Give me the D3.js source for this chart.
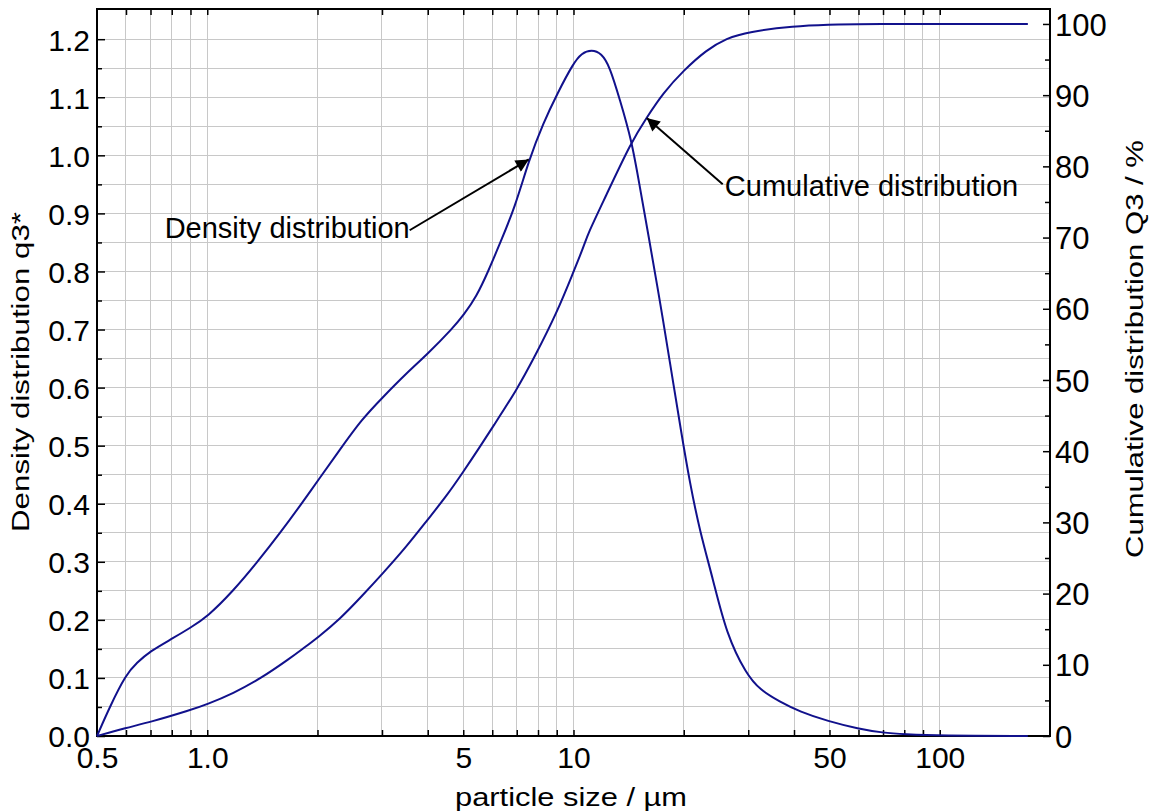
<!DOCTYPE html>
<html>
<head>
<meta charset="utf-8">
<script src="https://cdn.jsdelivr.net/npm/d3@7"></script>
<style>
  body { margin: 0; background: #fff; }
  text { font-family: "Liberation Sans", Arial, sans-serif; fill: #000; }
</style>
</head>
<body>
<svg id="chart" width="1149" height="812"></svg>
<script>
// particle size (µm) and density distribution q3*
const densitySize = [0.5, 0.5425, 0.6, 0.642, 0.698, 0.799, 0.897, 1.0, 1.178, 1.364, 1.579, 1.828, 2.0, 2.302, 2.639, 3.0, 3.501, 4.0, 4.69, 5.0, 5.437, 5.848, 6.295, 6.915, 7.565, 8.262, 9.04, 10.0, 10.52, 11.2, 11.92, 12.56, 13.38, 14.4, 15.17, 15.98, 17.2, 18.32, 19.72, 20.77, 22.12, 24.04, 26.16, 29.66, 32.25, 36.57, 41.47, 49.5, 60, 70, 80, 100, 174];
const densityValue = [0, 0.051, 0.106, 0.126, 0.146, 0.167, 0.186, 0.205, 0.250, 0.298, 0.349, 0.404, 0.439, 0.493, 0.545, 0.582, 0.625, 0.658, 0.703, 0.724, 0.757, 0.800, 0.848, 0.910, 0.993, 1.055, 1.107, 1.159, 1.176, 1.182, 1.176, 1.153, 1.096, 1.027, 0.946, 0.866, 0.751, 0.645, 0.520, 0.437, 0.353, 0.270, 0.175, 0.106, 0.080, 0.059, 0.042, 0.0255, 0.0124, 0.0055, 0.003, 0.0005, 0];

// particle size (µm) and cumulative distribution Q3 (%)
const cumulativeSize = [0.5, 0.6, 0.698, 0.897, 0.996, 1.178, 1.393, 1.682, 1.828, 2.0, 2.302, 2.639, 3.0, 3.501, 4.0, 4.5, 5.0, 5.55, 6.0, 7.0, 7.842, 9.0, 10.0, 10.62, 10.96, 12.17, 14.4, 15.82, 17.56, 20, 23.07, 26.16, 30, 40, 50, 60, 174];
const cumulativeValue = [0, 1.15, 1.94, 3.62, 4.42, 6.0, 8.0, 10.9, 12.3, 13.8, 16.4, 19.6, 22.7, 26.6, 30.4, 33.7, 37.1, 40.6, 43.3, 48.6, 53.3, 59.4, 65.2, 68.5, 70.6, 75.5, 83.5, 86.8, 90.3, 93.5, 96.35, 98.0, 98.9, 99.7, 99.9, 100, 100];

// axis ticks
const xTickValues = [0.5, 1, 5, 10, 50, 100];
const xTickLabels = ["0.5", "1.0", "5", "10", "50", "100"];
const xGridValues = [0.6, 0.7, 0.8, 0.9, 1, 2, 3, 4, 5, 6, 7, 8, 9, 10, 20, 30, 40, 50, 60, 70, 80, 90, 100];
const densityTicks = [0, 0.1, 0.2, 0.3, 0.4, 0.5, 0.6, 0.7, 0.8, 0.9, 1.0, 1.1, 1.2];
const densityMinorTicks = [0.05, 0.15, 0.25, 0.35, 0.45, 0.55, 0.65, 0.75, 0.85, 0.95, 1.05, 1.15];
const cumulativeTicks = [0, 10, 20, 30, 40, 50, 60, 70, 80, 90, 100];
const cumulativeMinorTicks = [5, 15, 25, 35, 45, 55, 65, 75, 85, 95];

// annotations: [label, text x, text y, arrow start x, arrow start y, arrow tip x, arrow tip y]
const densityNote = ["Density distribution", 3.57, 0.857, 3.57, 0.871, 7.55, 0.993];
const cumulativeNote = ["Cumulative distribution", 25.9, 75.8, 25.55, 77.5, 15.85, 86.8];

const plotLeft = 97, plotRight = 1050, plotTop = 9, plotBottom = 736;
const lineColor = "#11118c";

const svg = d3.select("#chart");

const x = d3.scaleLog().domain([0.5, 200]).range([plotLeft, plotRight]);
const yL = d3.scaleLinear().domain([0, 1.252]).range([plotBottom, plotTop]);
const yR = d3.scaleLinear().domain([0, 102.1]).range([plotBottom, plotTop]);

// grid
const grid = svg.append("g").attr("shape-rendering", "crispEdges");
grid.selectAll(".hgrid")
  .data(densityTicks.concat(densityMinorTicks).filter(d => d > 0))
  .enter().append("line")
  .attr("x1", plotLeft).attr("x2", plotRight)
  .attr("y1", d => yL(d)).attr("y2", d => yL(d))
  .attr("stroke", "#c8c8c8").attr("stroke-width", 1);
grid.selectAll(".vgrid")
  .data(xGridValues)
  .enter().append("line")
  .attr("x1", d => x(d)).attr("x2", d => x(d))
  .attr("y1", plotTop).attr("y2", plotBottom)
  .attr("stroke", "#c8c8c8").attr("stroke-width", 1);

function styleAxis(g, size) {
  g.select(".domain").remove();
  g.selectAll("line").attr("stroke", "#000").attr("stroke-width", 1.5);
  g.selectAll("text").style("font-family", '"Liberation Sans", Arial, sans-serif')
    .style("font-size", size + "px").attr("fill", "#000");
}

// left axis
svg.append("g").attr("transform", `translate(${plotLeft},0)`)
  .call(d3.axisLeft(yL).tickValues(densityTicks).tickSize(-8).tickSizeOuter(0)
    .tickPadding(7).tickFormat(d3.format(".1f")))
  .call(g => styleAxis(g, 30))
  .selectAll("text").attr("dy", "0.36em");
svg.append("g").attr("transform", `translate(${plotLeft},0)`)
  .call(d3.axisLeft(yL).tickValues(densityMinorTicks).tickSize(-5).tickSizeOuter(0).tickFormat(""))
  .call(g => styleAxis(g, 30));

// right axis
svg.append("g").attr("transform", `translate(${plotRight},0)`)
  .call(d3.axisRight(yR).tickValues(cumulativeTicks).tickSize(-7).tickSizeOuter(0)
    .tickPadding(5).tickFormat(d3.format("d")))
  .call(g => styleAxis(g, 31))
  .selectAll("text").attr("dy", "0.36em");
svg.append("g").attr("transform", `translate(${plotRight},0)`)
  .call(d3.axisRight(yR).tickValues(cumulativeMinorTicks).tickSize(-5).tickSizeOuter(0).tickFormat(""))
  .call(g => styleAxis(g, 31));

// bottom axis
svg.append("g").attr("transform", `translate(0,${plotBottom})`)
  .call(d3.axisBottom(x).tickValues(xGridValues).tickSize(-6).tickSizeOuter(0).tickFormat(""))
  .call(g => styleAxis(g, 30));
svg.append("g").attr("transform", `translate(0,${plotBottom})`)
  .call(d3.axisBottom(x).tickValues(xTickValues).tickSize(0).tickSizeOuter(0)
    .tickPadding(11).tickFormat((d, i) => xTickLabels[i]))
  .call(g => styleAxis(g, 30));

// top ticks
svg.append("g").attr("transform", `translate(0,${plotTop})`)
  .call(d3.axisTop(x).tickValues(xGridValues).tickSize(-6).tickSizeOuter(0).tickFormat(""))
  .call(g => styleAxis(g, 30));

// frame
svg.append("rect")
  .attr("x", plotLeft).attr("y", plotTop)
  .attr("width", plotRight - plotLeft).attr("height", plotBottom - plotTop)
  .attr("fill", "none").attr("stroke", "#000").attr("stroke-width", 2);

// curves
const densityLine = d3.line()
  .x((d, i) => x(densitySize[i]))
  .y(d => yL(d))
  .curve(d3.curveBasis);
const cumulativeLine = d3.line()
  .x((d, i) => x(cumulativeSize[i]))
  .y(d => yR(d))
  .curve(d3.curveBasis);

svg.append("path").datum(densityValue)
  .attr("d", densityLine)
  .attr("fill", "none").attr("stroke", lineColor).attr("stroke-width", 2);
svg.append("path").datum(cumulativeValue)
  .attr("d", cumulativeLine)
  .attr("fill", "none").attr("stroke", lineColor).attr("stroke-width", 2);

// arrow marker
svg.append("defs").append("marker")
  .attr("id", "arrow")
  .attr("viewBox", "0 0 10 10")
  .attr("refX", 10).attr("refY", 5)
  .attr("markerWidth", 18).attr("markerHeight", 13)
  .attr("markerUnits", "userSpaceOnUse")
  .attr("orient", "auto")
  .append("path").attr("d", "M0,0 L10,5 L0,10 z").attr("fill", "#000");

// annotations
function note(n, y, anchor) {
  svg.append("line")
    .attr("x1", x(n[3])).attr("y1", y(n[4]))
    .attr("x2", x(n[5])).attr("y2", y(n[6]))
    .attr("stroke", "#000").attr("stroke-width", 2)
    .attr("marker-end", "url(#arrow)");
  svg.append("text")
    .attr("x", x(n[1])).attr("y", y(n[2]))
    .attr("text-anchor", anchor)
    .style("font-size", "29px")
    .text(n[0]);
}
note(densityNote, yL, "end");
note(cumulativeNote, yR, "start");

// axis titles
svg.append("text")
  .attr("x", 571).attr("y", 806)
  .attr("text-anchor", "middle")
  .attr("textLength", 232).attr("lengthAdjust", "spacingAndGlyphs")
  .style("font-size", "25px")
  .text("particle size / µm");

svg.append("text")
  .attr("transform", "translate(29,372) rotate(-90)")
  .attr("text-anchor", "middle")
  .attr("textLength", 320).attr("lengthAdjust", "spacingAndGlyphs")
  .style("font-size", "23px")
  .text("Density distribution q3*");

svg.append("text")
  .attr("transform", "translate(1143,349) rotate(-90)")
  .attr("text-anchor", "middle")
  .attr("textLength", 418).attr("lengthAdjust", "spacingAndGlyphs")
  .style("font-size", "23px")
  .text("Cumulative distribution Q3 / %");
</script>
</body>
</html>
